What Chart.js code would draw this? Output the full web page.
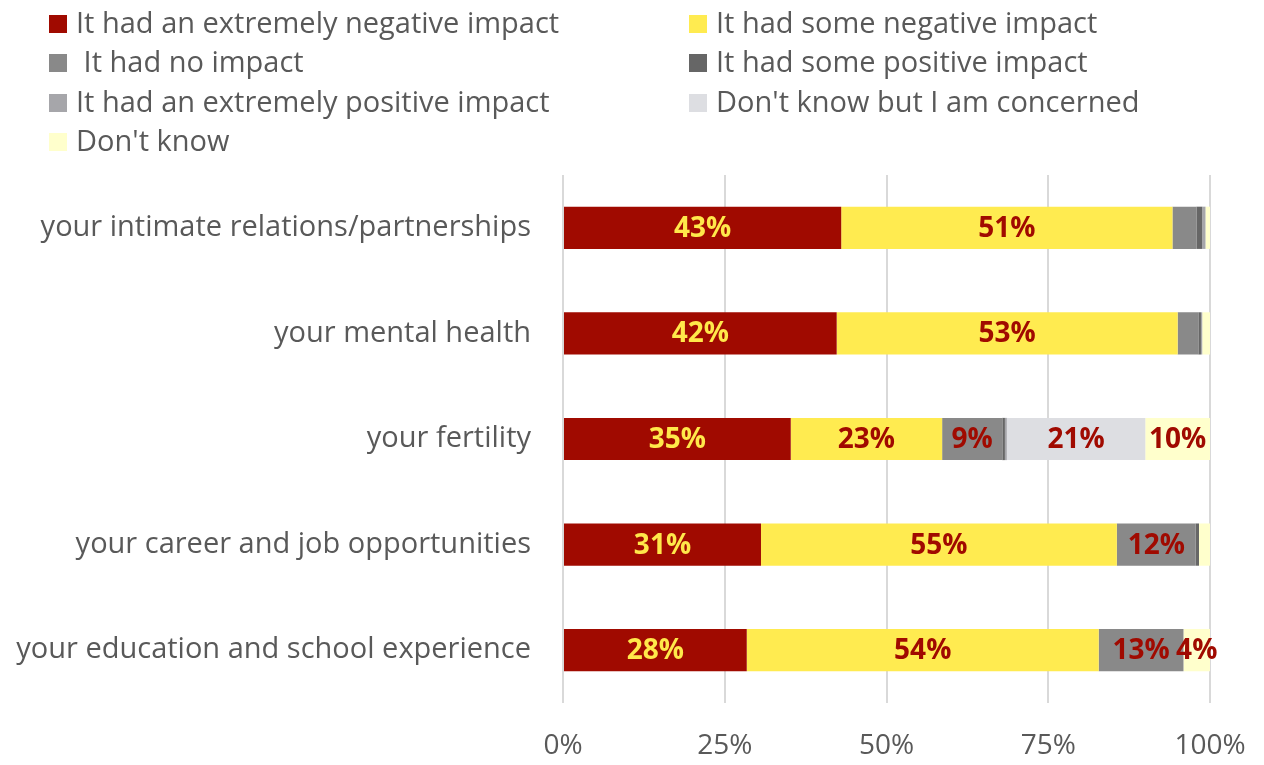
<!DOCTYPE html>
<html>
<head>
<meta charset="utf-8">
<script src="https://cdn.jsdelivr.net/npm/chart.js@4"></script>
<style>
  body { margin: 0; background: #fff; font-family: "Open Sans", sans-serif; }
  .wrap { position: relative; width: 1264px; height: 765px; }
  .legend { position: absolute; left: 0; top: 0; width: 1264px; }
  .legend .item { position: absolute; font-size: 29px; color: #595959; white-space: pre; line-height: 1; }
  .legend .box { position: absolute; width: 18px; height: 18px; }
</style>
</head>
<body>
<div class="wrap">
  <canvas id="impactChart"></canvas>
  <div class="legend" id="legend"></div>
</div>
<script>
  const categories = [
    "your intimate relations/partnerships",
    "your mental health",
    "your fertility",
    "your career and job opportunities",
    "your education and school experience",
  ];

  // shares in percent, one value per category
  const extremelyNegative = [43.0, 42.3, 35.2, 30.6, 28.4];
  const someNegative = [51.2, 52.7, 23.4, 55.0, 54.4];
  const noImpact = [3.7, 3.2, 9.3, 12.2, 13.1];
  const somePositive = [0.9, 0.4, 0.4, 0.5, 0];
  const extremelyPositive = [0.5, 0.2, 0.3, 0, 0];
  const dontKnowConcerned = [0, 0, 21.4, 0, 0];
  const dontKnow = [0.7, 1.2, 10.0, 1.7, 4.1];

  const tickLabels = ["0%", "25%", "50%", "75%", "100%"];

  const RED = "#A00A00";
  const YELLOW_TEXT = "#FFE84A";

  const series = [
    { label: "It had an extremely negative impact", data: extremelyNegative, color: RED, text: YELLOW_TEXT },
    { label: "It had some negative impact", data: someNegative, color: "#FFEB50", text: RED },
    { label: " It had no impact", data: noImpact, color: "#898989", text: RED },
    { label: "It had some positive impact", data: somePositive, color: "#666666", text: RED },
    { label: "It had an extremely positive impact", data: extremelyPositive, color: "#A6A6AA", text: RED },
    { label: "Don't know but I am concerned", data: dontKnowConcerned, color: "#DDDEE2", text: RED },
    { label: "Don't know", data: dontKnow, color: "#FFFFCC", text: RED },
  ];

  // percentage labels centred in each segment (small slices are left blank)
  const segmentLabels = {
    id: "segmentLabels",
    afterDatasetsDraw(chart) {
      const ctx = chart.ctx;
      ctx.save();
      ctx.font = "bold 28px 'Open Sans'";
      ctx.textAlign = "center";
      ctx.textBaseline = "middle";
      chart.data.datasets.forEach((ds, i) => {
        const meta = chart.getDatasetMeta(i);
        meta.data.forEach((bar, j) => {
          const v = ds.data[j];
          if (v < 4) return;
          const x = (bar.x + bar.base) / 2;
          ctx.fillStyle = series[i].text;
          ctx.fillText(Math.round(v) + "%", x, bar.y + 1);
        });
      });
      ctx.restore();
    },
  };

  const ctx = document.getElementById("impactChart").getContext("2d");
  const myChart = new Chart(ctx, {
    type: "bar",
    data: {
      labels: categories,
      datasets: series.map((s) => ({
        label: s.label,
        data: s.data,
        backgroundColor: s.color,
        borderWidth: 0,
        barPercentage: 0.4,
        categoryPercentage: 1,
      })),
    },
    options: {
      indexAxis: "y",
      responsive: true,
      maintainAspectRatio: false,
      animation: false,
      layout: { padding: { top: 175, left: 10, right: 54, bottom: 4 } },
      plugins: {
        legend: { display: false },
        tooltip: { enabled: false },
      },
      scales: {
        x: {
          stacked: true,
          min: 0,
          max: 100,
          grid: { color: "#D9D9D9", lineWidth: 2, drawTicks: false },
          border: { display: false },
          ticks: {
            stepSize: 25,
            padding: 26,
            maxRotation: 0,
            color: "#595959",
            font: { family: "Open Sans", size: 28 },
            callback: (v, i) => tickLabels[i],
          },
          afterFit: (scale) => {
            scale.height = 58;
            scale.paddingLeft = 0;
            scale.paddingRight = 0;
          },
        },
        y: {
          stacked: true,
          grid: { display: false, drawTicks: false },
          border: { display: false },
          ticks: {
            padding: 32,
            color: "#595959",
            font: { family: "Open Sans", size: 29 },
          },
          afterFit: (scale) => {
            scale.width = 553;
          },
        },
      },
    },
    plugins: [segmentLabels],
  });

  // two-column legend above the plot
  const legendEl = document.getElementById("legend");
  series.forEach((s, i) => {
    const col = i % 2;
    const row = Math.floor(i / 2);
    const cy = 24 + row * 39.3;
    const boxX = col === 0 ? 49 : 689;
    const textX = col === 0 ? 76 : 716;
    const box = document.createElement("div");
    box.className = "box";
    box.style.left = boxX + "px";
    box.style.top = cy - 9 + "px";
    box.style.background = s.color;
    const item = document.createElement("div");
    item.className = "item";
    item.style.left = textX + "px";
    item.style.top = cy - 17 + "px";
    item.textContent = s.label;
    legendEl.appendChild(box);
    legendEl.appendChild(item);
  });
</script>
</body>
</html>
